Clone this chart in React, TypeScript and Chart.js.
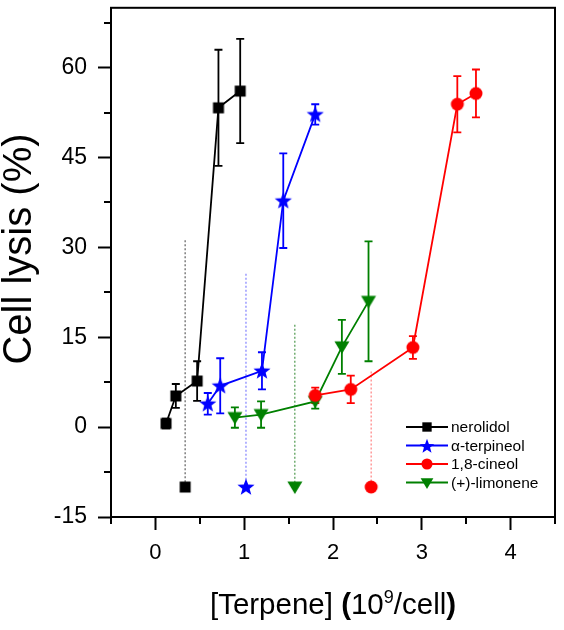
import React, { useEffect, useRef } from "react";
import { Chart, registerables } from "chart.js";

Chart.register(...registerables);

const FONT = "'Liberation Sans', Arial, Helvetica, sans-serif";

// ---- data ----
const seriesNames = ["nerolidol", "α-terpineol", "1,8-cineol", "(+)-limonene"];
const seriesColors = ["#000000", "#0000ff", "#ff0000", "#008000"];

const nerolidolX = [0.12, 0.23, 0.47, 0.71, 0.955];
const nerolidolY = [0.6, 5.2, 7.7, 53.3, 56.1];
const nerolidolErr = [0.8, 2.0, 3.3, 9.7, 8.7];

const terpineolX = [0.59, 0.73, 1.2, 1.44, 1.8];
const terpineolY = [3.9, 6.9, 9.4, 37.8, 52.2];
const terpineolErr = [1.8, 4.6, 3.1, 7.9, 1.7];

const cineolX = [1.8, 2.2, 2.9, 3.4, 3.61];
const cineolY = [5.3, 6.3, 13.3, 53.9, 55.7];
const cineolErr = [1.3, 2.3, 1.9, 4.7, 4.0];

const limoneneX = [0.895, 1.19, 1.8, 2.1, 2.4];
const limoneneY = [1.6, 2.1, 4.3, 13.4, 21.0];
const limoneneErr = [1.7, 2.2, 1.2, 4.5, 10.0];

// dotted reference lines with a marker at the bottom (series index per line)
const refSeries = [0, 1, 3, 2];
const refX = [0.335, 1.02, 1.57, 2.43];
const refTop = [31.2, 25.6, 17.1, 9.3];
const refMarkerY = -10;
const refLineColors = ["#6a6a6a", "#8a8aff", "#5aa05a", "#ff8a8a"];

const xTicks = [0, 1, 2, 3, 4];
const yTicks = [-15, 0, 15, 30, 45, 60];
const xMin = -0.5;
const xMax = 4.5;
const yMin = -15;
const yMax = 70;

// ---- markers ----
type Kind = "square" | "star" | "circle" | "triangleDown";
const seriesKinds: Kind[] = ["square", "star", "circle", "triangleDown"];

function makeMarker(kind: Kind, color: string, scale = 1): HTMLCanvasElement {
  const s = 22;
  const c = document.createElement("canvas");
  c.width = s;
  c.height = s;
  const ctx = c.getContext("2d")!;
  ctx.fillStyle = color;
  const m = s / 2;
  ctx.beginPath();
  if (kind === "square") {
    const h = 5.5 * scale;
    ctx.rect(m - h, m - h, 2 * h, 2 * h);
  } else if (kind === "circle") {
    ctx.arc(m, m, 6.5 * scale, 0, Math.PI * 2);
  } else if (kind === "star") {
    const ro = 9 * scale;
    const ri = 3.8 * scale;
    for (let i = 0; i < 10; i++) {
      const r = i % 2 === 0 ? ro : ri;
      const a = -Math.PI / 2 + (i * Math.PI) / 5;
      const px = m + r * Math.cos(a);
      const py = m + 0.5 + r * Math.sin(a);
      if (i === 0) ctx.moveTo(px, py);
      else ctx.lineTo(px, py);
    }
    ctx.closePath();
  } else {
    const hw = 7.5 * scale;
    ctx.moveTo(m - hw, m - 5.5 * scale);
    ctx.lineTo(m + hw, m - 5.5 * scale);
    ctx.lineTo(m, m + 7 * scale);
    ctx.closePath();
  }
  ctx.fill();
  return c;
}

const errorBarPlugin = {
  id: "errorBars",
  beforeDatasetsDraw(chart: any) {
    const ctx = chart.ctx;
    const xs = chart.scales.x;
    const ys = chart.scales.y;
    ctx.save();
    chart.data.datasets.forEach((ds: any) => {
      if (!ds.err) return;
      ctx.strokeStyle = ds.borderColor;
      ctx.lineWidth = 1.8;
      ds.data.forEach((p: any, j: number) => {
        const e = ds.err[j];
        const x = xs.getPixelForValue(p.x);
        const yt = ys.getPixelForValue(p.y + e);
        const yb = ys.getPixelForValue(p.y - e);
        ctx.beginPath();
        ctx.moveTo(x, yt);
        ctx.lineTo(x, yb);
        ctx.moveTo(x - 4, yt);
        ctx.lineTo(x + 4, yt);
        ctx.moveTo(x - 4, yb);
        ctx.lineTo(x + 4, yb);
        ctx.stroke();
      });
    });
    ctx.restore();
  },
};

const framePlugin = {
  id: "frameAndExtras",
  afterDraw(chart: any) {
    const ctx = chart.ctx;
    const a = chart.chartArea;
    const xs = chart.scales.x;
    const ys = chart.scales.y;
    ctx.save();
    // frame
    ctx.strokeStyle = "#000";
    ctx.lineWidth = 2;
    ctx.strokeRect(a.left, a.top, a.right - a.left, a.bottom - a.top);
    // minor ticks
    ctx.beginPath();
    for (let v = xMin; v <= xMax + 1e-9; v += 1) {
      const x = Math.round(xs.getPixelForValue(v));
      ctx.moveTo(x, a.bottom);
      ctx.lineTo(x, a.bottom + 7);
    }
    for (let v = yMin + 7.5; v < yMax; v += 15) {
      const y = Math.round(ys.getPixelForValue(v));
      ctx.moveTo(a.left, y);
      ctx.lineTo(a.left - 7, y);
    }
    ctx.stroke();

    // y title
    ctx.fillStyle = "#000";
    ctx.font = `40px ${FONT}`;
    ctx.textAlign = "center";
    ctx.textBaseline = "middle";
    ctx.save();
    ctx.translate(20, 249);
    ctx.rotate(-Math.PI / 2);
    ctx.fillText("Cell lysis (%)", 0, 0);
    ctx.restore();

    // x title with bold parentheses and superscript
    const parts = [
      { t: "[Terpene] ", f: `29.5px ${FONT}`, dy: 0 },
      { t: "(", f: `bold 29.5px ${FONT}`, dy: 0 },
      { t: "10", f: `29.5px ${FONT}`, dy: 0 },
      { t: "9", f: `18px ${FONT}`, dy: -11 },
      { t: "/cell", f: `29.5px ${FONT}`, dy: 0 },
      { t: ")", f: `bold 29.5px ${FONT}`, dy: 0 },
    ];
    ctx.textAlign = "left";
    ctx.textBaseline = "alphabetic";
    let total = 0;
    parts.forEach((p) => {
      ctx.font = p.f;
      total += ctx.measureText(p.t).width;
    });
    let cx = (a.left + a.right) / 2 - total / 2;
    const base = 614;
    parts.forEach((p) => {
      ctx.font = p.f;
      ctx.fillText(p.t, cx, base + p.dy);
      cx += ctx.measureText(p.t).width;
    });

    // legend
    const lx0 = a.right - 149;
    const ly0 = a.bottom - 90;
    ctx.font = `15.5px ${FONT}`;
    ctx.textBaseline = "middle";
    seriesNames.forEach((name, k) => {
      const y = ly0 + k * 18.5;
      ctx.strokeStyle = seriesColors[k];
      ctx.lineWidth = 1.8;
      ctx.beginPath();
      ctx.moveTo(lx0, y);
      ctx.lineTo(lx0 + 42, y);
      ctx.stroke();
      const mk = makeMarker(seriesKinds[k], seriesColors[k], 0.85);
      ctx.drawImage(mk, Math.round(lx0 + 21 - mk.width / 2), Math.round(y - mk.height / 2));
      ctx.fillStyle = "#000";
      ctx.fillText(name, lx0 + 45, y + 1);
    });
    ctx.restore();
  },
};

export default function App() {
  const ref = useRef<HTMLCanvasElement | null>(null);

  useEffect(() => {
    if (!ref.current) return;
    const mk = (xs: number[], ys: number[]) => xs.map((x, i) => ({ x, y: ys[i] }));
    const series = [
      { x: nerolidolX, y: nerolidolY, e: nerolidolErr },
      { x: terpineolX, y: terpineolY, e: terpineolErr },
      { x: cineolX, y: cineolY, e: cineolErr },
      { x: limoneneX, y: limoneneY, e: limoneneErr },
    ];
    const refDatasets = refX.map((x, k) => {
      const si = refSeries[k];
      return {
        label: "ref-" + seriesNames[si],
        data: [
          { x, y: refTop[k] },
          { x, y: refMarkerY },
        ],
        showLine: true,
        borderColor: refLineColors[k],
        borderWidth: 1.3,
        borderDash: [2, 2],
        pointRadius: [0, 6],
        pointHoverRadius: [0, 6],
        pointStyle: makeMarker(seriesKinds[si], seriesColors[si]),
        order: 10,
      };
    });
    const mainDatasets = series.map((s, k) => ({
      label: seriesNames[k],
      data: mk(s.x, s.y),
      err: s.e,
      showLine: true,
      borderColor: seriesColors[k],
      backgroundColor: seriesColors[k],
      borderWidth: 1.8,
      pointRadius: 6,
      pointStyle: makeMarker(seriesKinds[k], seriesColors[k]),
      order: 1,
    }));

    const chart = new Chart(ref.current, {
      type: "scatter",
      data: { datasets: [...refDatasets, ...mainDatasets] as any },
      plugins: [errorBarPlugin, framePlugin],
      options: {
        responsive: false,
        animation: false,
        layout: { padding: { top: 6, right: 9, left: 0, bottom: 0 } },
        plugins: { legend: { display: false }, tooltip: { enabled: false } },
        scales: {
          x: {
            type: "linear",
            min: xMin,
            max: xMax,
            afterBuildTicks: (s: any) => {
              s.ticks = xTicks.map((v) => ({ value: v }));
            },
            afterFit: (s: any) => {
              s.height = 113;
              s.paddingLeft = 0;
              s.paddingRight = 0;
            },
            ticks: {
              color: "#000",
              padding: 10,
              font: { size: 22, family: FONT },
            },
            grid: {
              drawOnChartArea: false,
              drawTicks: true,
              tickLength: 13,
              tickWidth: 2,
              tickColor: "#000",
              color: "#000",
            },
            border: { color: "#000", width: 2 },
          },
          y: {
            type: "linear",
            min: yMin,
            max: yMax,
            afterBuildTicks: (s: any) => {
              s.ticks = yTicks.map((v) => ({ value: v }));
            },
            afterFit: (s: any) => {
              s.width = 111;
              s.paddingTop = 0;
              s.paddingBottom = 0;
            },
            ticks: {
              color: "#000",
              padding: 11,
              font: { size: 23, family: FONT },
            },
            grid: {
              drawOnChartArea: false,
              drawTicks: true,
              tickLength: 13,
              tickWidth: 2,
              tickColor: "#000",
              color: "#000",
            },
            border: { color: "#000", width: 2 },
          },
        },
      } as any,
    });
    return () => chart.destroy();
  }, []);

  return (
    <div style={{ position: "absolute", left: 0, top: 0, width: 564, height: 630, background: "#fff" }}>
      <canvas ref={ref} width={564} height={630} style={{ display: "block" }} />
    </div>
  );
}
